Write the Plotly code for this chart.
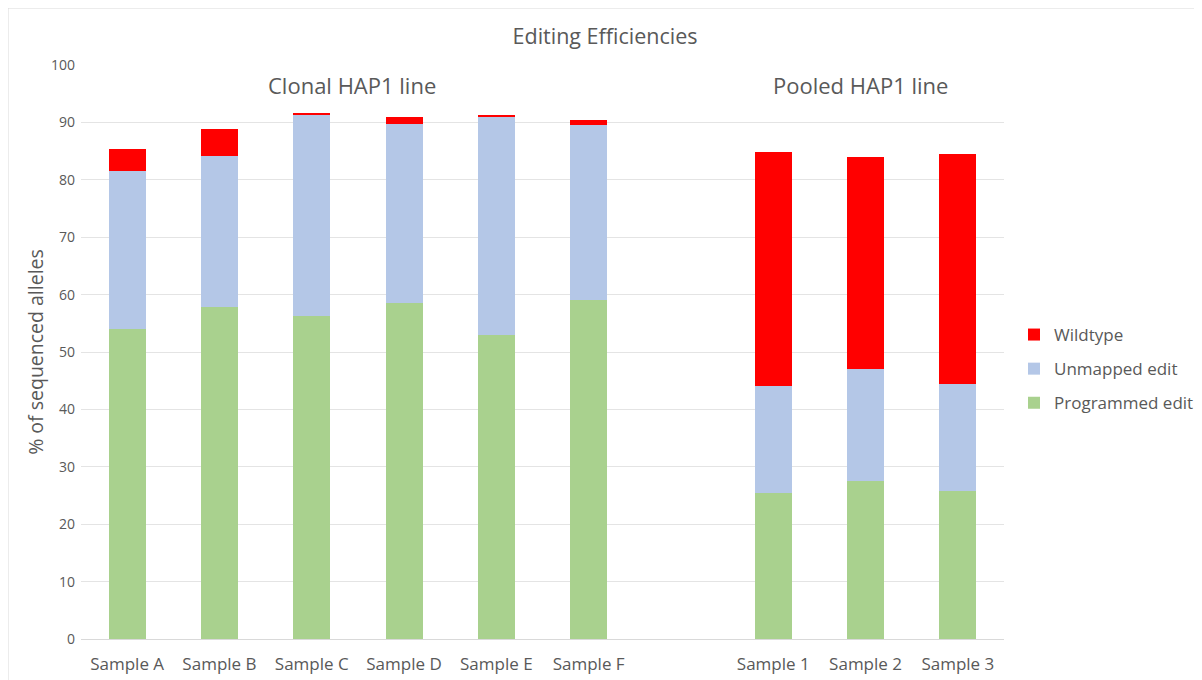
import plotly.graph_objects as go

categories = ["Sample A", "Sample B", "Sample C", "Sample D", "Sample E", "Sample F",
              "gap", "Sample 1", "Sample 2", "Sample 3"]
tick_labels = ["Sample A", "Sample B", "Sample C", "Sample D", "Sample E", "Sample F",
               "", "Sample 1", "Sample 2", "Sample 3"]
programmed = [54.0, 57.9, 56.3, 58.6, 53.0, 59.1, None, 25.4, 27.6, 25.8]
unmapped = [27.6, 26.2, 35.1, 31.2, 38.0, 30.5, None, 18.6, 19.4, 18.6]
wildtype = [3.7, 4.8, 0.3, 1.1, 0.3, 0.9, None, 40.8, 36.9, 40.1]

TXT = "#595959"
FONT = "Open Sans"

fig = go.Figure()
for rank, (name, vals, col) in enumerate([("Programmed edit", programmed, "#A9D18E"),
                                          ("Unmapped edit", unmapped, "#B4C7E7"),
                                          ("Wildtype", wildtype, "#FF0000")]):
    fig.add_trace(go.Bar(x=categories, y=vals, name=name, marker_color=col,
                         marker_line=dict(width=0),
                         width=0.4, legendgroup=name, legendrank=100 - rank))

W, H = 1194, 672
fig.update_layout(
    barmode="stack",
    width=W, height=H,
    margin=dict(l=73, r=198, t=57, b=41, autoexpand=False),
    plot_bgcolor="white", paper_bgcolor="white",
    font=dict(family=FONT, color=TXT),
    title=dict(text="Editing Efficiencies", x=0.5, xanchor="center", y=0.958, yanchor="middle",
               font=dict(size=21.5, color=TXT, family=FONT)),
    legend=dict(traceorder="grouped", xref="container", yref="container",
                x=1006 / W, xanchor="left", y=1 - 361 / H, yanchor="middle",
                font=dict(size=17, color=TXT), itemwidth=30, tracegroupgap=9),
    showlegend=True,
)
fig.update_xaxes(tickmode="array", tickvals=categories, ticktext=tick_labels,
                 tickfont=dict(size=17, color=TXT), showline=True, linecolor="#D9D9D9",
                 ticks="", showgrid=False, automargin=False, ticklabelstandoff=10)
fig.update_yaxes(range=[0, 100], dtick=10, tickfont=dict(size=14, color=TXT),
                 gridcolor="#E4E4E4", showline=False, zeroline=False,
                 ticks="", ticklabelstandoff=5, automargin=False,
                 title=dict(text="% of sequenced alleles", font=dict(size=19.5, color=TXT), standoff=2))

fig.add_annotation(text="Clonal HAP1 line", x=0.294, y=0.965, xref="paper", yref="paper",
                   xanchor="center", yanchor="middle",
                   showarrow=False, font=dict(size=22, color=TXT))
fig.add_annotation(text="Pooled HAP1 line", x=0.844, y=0.965, xref="paper", yref="paper",
                   xanchor="center", yanchor="middle",
                   showarrow=False, font=dict(size=22, color=TXT))

fig.add_shape(type="rect", xref="paper", yref="paper", x0=-73 / 923, y0=-0.3, x1=1.4, y1=1 + 57 / 574,
              line=dict(color="#D9D9D9", width=1), fillcolor="rgba(0,0,0,0)", layer="below")

fig.write_html("out.html")
